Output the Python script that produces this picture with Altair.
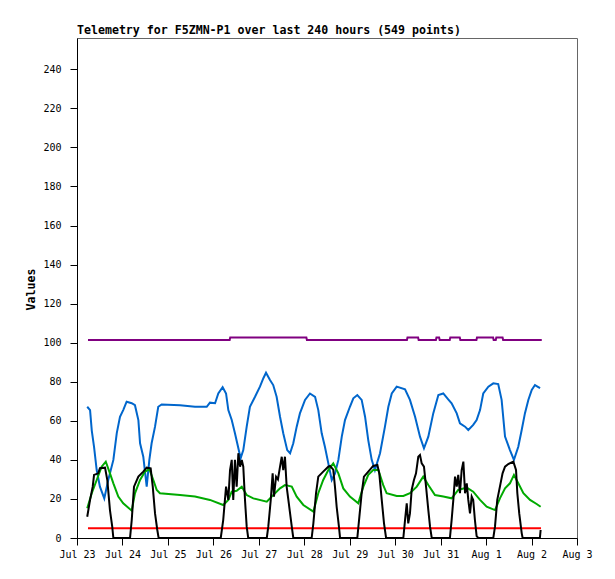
import altair as alt
import pandas as pd

TITLE = "Telemetry for F5ZMN-P1 over last 240 hours (549 points)"
START = "2024-07-23"

# hours since Jul 23 00:00, values
blue_h = [5.4, 6.9, 7.8, 9.0, 10.4, 12.1, 14.4, 16.5, 19.2, 21.0, 22.7, 24.4, 26.2, 28.9, 30.6, 32.4, 33.3, 35.0, 36.8, 38.2,
          39.4, 41.2, 42.9, 44.7, 54.4, 62.3, 68.5, 70.2, 72.9, 74.6, 76.9, 78.7, 79.9, 81.7, 83.4, 84.6, 86.4, 87.8, 89.6, 91.3,
          94.0, 96.6, 98.4, 99.8, 101.9, 103.6, 105.4, 107.2, 108.9, 111.0, 112.5, 114.2, 116.0, 117.7, 120.4, 123.0, 125.7, 127.4, 129.2, 130.9,
          132.7, 134.5, 136.2, 138.0, 139.8, 141.5, 144.1, 145.9, 148.0, 150.3, 152.1, 153.8, 155.6, 157.3, 160.0, 162.6, 164.4, 166.2, 168.8, 173.2,
          175.8, 178.5, 181.1, 183.2, 185.5, 188.1, 190.8, 193.4, 196.0, 197.8, 200.5, 202.2, 204.9, 206.6, 209.2, 211.0, 212.8, 214.5, 217.2, 219.8,
          222.4, 224.2, 226.0, 228.6, 230.7, 233.0, 234.8, 236.5, 238.3, 240.1, 241.8, 244.5]
blue_v = [67.2, 65.5, 55, 46.7, 34.8, 26.3, 20.3, 29.7, 40, 53.7, 62, 65.5, 69.8, 69, 68, 60.4, 48.5, 41.6, 26.3, 40,
          48.5, 57, 67.2, 68.4, 68, 67.2, 67.2, 69.3, 69, 74, 77.2, 74, 65.5, 60.4, 53.6, 48.5, 40.8, 45, 57, 67.2,
          72.3, 77.5, 81.8, 84.6, 80.9, 78.3, 72.3, 62.1, 53.6, 45, 43.4, 48.5, 57, 63.8, 70.7, 74, 72.3, 65.5, 53.6, 46.7,
          38.2, 29.7, 33, 40, 51.9, 60.4, 67.2, 71.5, 73.2, 70.7, 62.1, 50, 40, 34.8, 43.4, 57, 67.2, 74, 77.5, 76.1,
          70.7, 62.1, 51.9, 45.9, 51.9, 63.8, 73.2, 74, 71, 69, 63.8, 58.7, 57, 55.3, 57.9, 60.4, 65.5, 74, 77.5, 79.2,
          78.8, 70.7, 51.9, 45, 40, 46.7, 55.3, 63.8, 70.7, 75.8, 78.3, 76.7]

green_h = [5.4, 7.8, 10.4, 13.0, 15.2, 17.4, 19.2, 21.8, 24.4, 28.9, 30.6, 33.3, 35.9, 38.2, 40.3, 42.1, 43.8, 54.4, 62.3, 70.2,
           77.2, 79.9, 81.7, 84.3, 87.0, 89.6, 93.1, 100.2, 102.8, 107.2, 109.8, 113.4, 116.0, 119.5, 124.8, 127.4, 130.0, 132.7, 135.3, 138.0,
           140.6, 144.1, 148.5, 151.2, 153.8, 156.4, 159.1, 161.7, 163.5, 168.8, 172.3, 175.8, 179.4, 182.8, 185.5, 189.0, 193.4, 197.8, 201.3, 205.8,
           209.2, 212.8, 216.3, 220.7, 223.3, 226.0, 228.6, 230.7, 233.0, 235.7, 239.2, 242.7, 244.8]
green_v = [15.2, 22.9, 29.7, 36.5, 39.1, 33.1, 28, 21.2, 17.8, 14, 22.9, 29.7, 34, 35.2, 29.7, 24.6, 22.9, 22, 21.2, 19.5,
           16.9, 19.5, 23.7, 24.2, 26.3, 22, 20.3, 18.6, 21.2, 25.4, 27.1, 26.3, 21.2, 16.9, 13.5, 22.9, 29.7, 34.8, 38.2, 33.1,
           25.4, 21.2, 17.8, 26.3, 32.3, 34.8, 34.8, 27.1, 22.9, 21.5, 21.5, 22.9, 26.3, 31.4, 27.1, 22, 21.2, 20.3, 24.6, 25.8,
           23.7, 19.5, 16, 14.3, 20.3, 25.4, 28, 32.3, 28, 22.9, 19.5, 17.4, 16]

black_h = [5.4, 6.9, 8.3, 9.0, 11.2, 12.1, 14.8, 16.0, 17.4, 18.6, 19.2, 28.0, 28.9, 30.1, 32.4, 35.0, 36.8, 38.9, 40.0, 41.2,
           42.4, 43.1, 75.9, 77.2, 78.7, 79.9, 80.8, 81.7, 82.5, 83.4, 84.3, 85.2, 86.1, 87.0, 87.8, 88.7, 89.6, 90.4, 100.2, 101.0,
           102.3, 103.3, 104.0, 105.1, 106.1, 107.2, 108.1, 108.9, 109.8, 110.7, 111.6, 113.4, 114.2, 123.9, 124.8, 126.2, 127.4, 130.0, 132.7, 133.6,
           135.3, 136.2, 137.1, 138.3, 138.9, 148.0, 149.1, 150.3, 151.5, 153.8, 156.4, 158.6, 159.6, 160.9, 162.1, 163.2, 172.3, 173.2, 174.1, 174.9,
           175.8, 176.7, 177.9, 179.0, 180.2, 181.1, 182.0, 183.2, 184.3, 185.5, 186.4, 187.3, 196.9, 197.8, 198.7, 199.6, 200.5, 201.3, 202.2, 203.1,
           204.0, 204.9, 205.8, 206.6, 207.5, 208.4, 209.2, 210.1, 211.0, 211.9, 219.8, 220.7, 221.9, 223.3, 224.7, 226.0, 227.7, 230.4, 231.8, 232.5,
           233.5, 234.8, 235.3, 244.4, 244.8]
black_v = [10.9, 19.5, 26.3, 32.3, 33.1, 35.7, 36, 29.7, 14.3, 5.8, 0, 0, 9.2, 26.3, 31.4, 34, 36, 35.7, 26.3, 12.6,
           4.1, 0, 0, 9.2, 26.3, 19.5, 34.8, 40, 19.5, 40, 26.3, 43.4, 36.5, 40, 36.5, 19.5, 5.8, 0, 0, 5.8,
           19.5, 33.1, 21.2, 31.4, 30, 36.5, 41.6, 34.8, 41.6, 26.3, 19.5, 5.8, 0, 0, 7.5, 22.9, 31.4, 34, 36.5, 36.9,
           35, 26.3, 16, 5.8, 0, 0, 10.9, 22.9, 31.4, 34, 36.9, 37.4, 33.1, 19.5, 7.5, 0, 0, 9.2, 17.8, 7.5,
           12.6, 24.6, 29.7, 33.1, 41.6, 42.5, 38.2, 36.5, 26.3, 14.3, 5.8, 0, 0, 9.2, 19.5, 31.4, 26.3, 32.3, 22.9, 34.8,
           39.1, 22.9, 28, 19.5, 12.6, 21.2, 19.5, 9.2, 1, 0, 0, 5.8, 19.5, 26.3, 33.1, 36.5, 37.9, 39.1, 34.8, 22.9,
           12.6, 2.5, 0, 0, 4.1]

purple_h = [5.8, 80.6, 80.9, 121.1, 121.4, 174.2, 174.5, 180.1, 180.4, 189.5, 189.8, 191.2, 191.5, 196.8, 197.1, 202.1, 202.4,
            210.9, 211.2, 219.7, 220.0, 221.1, 221.4, 224.7, 225.0, 245.4]
purple_v = [101.4, 101.4, 102.7, 102.7, 101.4, 101.4, 102.7, 102.7, 101.4, 101.4, 102.7, 102.7, 101.4, 101.4, 102.7, 102.7, 101.4,
            101.4, 102.7, 102.7, 101.4, 101.4, 102.7, 102.7, 101.4, 101.4]

red_h = [5.8, 245.0]
red_v = [5, 5]

y_ticks = [0, 20, 40, 60, 80, 100, 120, 140, 160, 180, 200, 220, 240]
x_days = ["2024-07-23", "2024-07-24", "2024-07-25", "2024-07-26", "2024-07-27", "2024-07-28",
          "2024-07-29", "2024-07-30", "2024-07-31", "2024-08-01", "2024-08-02", "2024-08-03"]

series = [
    ("red", red_h, red_v, "#ff0000"),
    ("purple", purple_h, purple_v, "#800080"),
    ("blue", blue_h, blue_v, "#0066cc"),
    ("green", green_h, green_v, "#00aa00"),
    ("black", black_h, black_v, "#000000"),
]

base = pd.Timestamp(START)


def frame(h, v):
    t = base + pd.to_timedelta(pd.Series(h, dtype=float), unit="h")
    return pd.DataFrame({"t": t.dt.strftime("%Y-%m-%dT%H:%M:%S"), "v": v})


def dt(s):
    d = pd.Timestamp(s)
    return alt.DateTime(year=d.year, month=d.month, date=d.day)


x_enc = alt.X(
    "t:T",
    scale=alt.Scale(domain=[dt(x_days[0]), dt(x_days[-1])]),
    axis=alt.Axis(values=[dt(d) for d in x_days], format="%b %-d", title=None,
                  labelFont="DejaVu Sans Mono", labelFontSize=10, labelColor="black",
                  tickColor="black", domainColor="black", tickSize=7, labelPadding=4,
                  grid=False, labelFlush=False, labelOverlap=False),
)
y_enc = alt.Y(
    "v:Q",
    scale=alt.Scale(domain=[0, 256], nice=False),
    axis=alt.Axis(values=y_ticks, title="Values", titleFont="DejaVu Sans Mono", titleFontSize=11.6,
                  titleFontWeight="bold", titleColor="black", titleAngle=-90, titleX=-46, titleY=251,
                  titleAlign="center", titleBaseline="middle",
                  labelFont="DejaVu Sans Mono", labelFontSize=10, labelColor="black",
                  tickColor="black", domainColor="black", tickSize=7, labelPadding=9,
                  grid=False, labelFlush=False, labelOverlap=False),
)

layers = []
for name, h, v, col in series:
    layers.append(
        alt.Chart(frame(h, v)).mark_line(color=col, strokeWidth=2, clip=True).encode(x=x_enc, y=y_enc)
    )

chart = alt.layer(*layers).properties(
    width=500,
    height=500,
    title=alt.TitleParams(TITLE, anchor="start", frame="group", font="DejaVu Sans Mono", fontSize=11.6,
                          fontWeight="bold", color="black", offset=1),
    autosize=alt.AutoSizeParams(type="none"),
    padding={"left": 69, "top": 30, "right": 30, "bottom": 33},
).configure_view(stroke="#666666", strokeWidth=1)

chart.save("out.html", embed_options={"renderer": "svg", "actions": False})
